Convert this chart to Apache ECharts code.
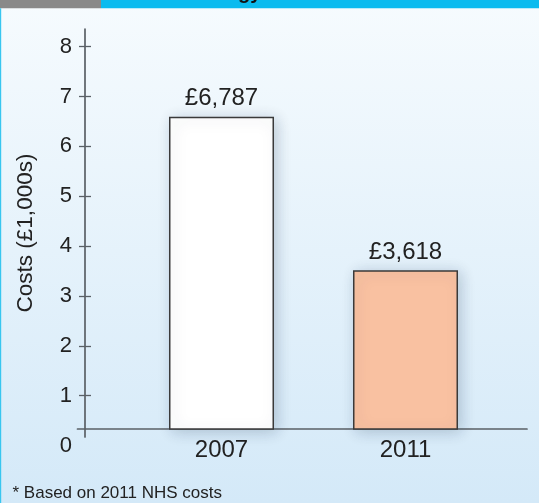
<!DOCTYPE html>
<html>
<head>
<meta charset="utf-8">
<script src="https://cdn.jsdelivr.net/npm/echarts@6/dist/echarts.min.js"></script>
<style>
html,body{margin:0;padding:0;}
#chart{width:539px;height:503px;}
</style>
</head>
<body>
<div id="chart"></div>
<script>
// ---- data ----
var categories = ['2007', '2011'];
var costs = [6.787, 3.618];           // £1,000s
var barColors = ['#ffffff', '#f9c1a1'];
var yTickMin = 0, yTickMax = 8, yTickInterval = 1;
var yTickMarks = [1, 2, 3, 4, 5, 6, 7, 8];   // tick marks drawn (none at 0)
var yAxisTitle = 'Costs (£1,000s)';
var footnote = '* Based on 2011 NHS costs';

// ---- layout ----
var W = 539, H = 503;
var FONT = 'Liberation Sans';
var yZero = 445.6, yTop = 46.7, xAxisY = 429;
var barPxPerUnit = 48.45;
var barMin = (yZero - xAxisY) / barPxPerUnit;
var barMax = (yZero - yTop) / barPxPerUnit;
var lineColor = '#5a6066';

var chart = echarts.init(document.getElementById('chart'), null, {renderer: 'canvas'});

var hidden = {show: false};
var option = {
  animation: false,
  backgroundColor: {
    type: 'linear', x: 0, y: 0, x2: 0, y2: 1,
    colorStops: [{offset: 0, color: '#f6fbfe'}, {offset: 1, color: '#d4e9f8'}]
  },
  textStyle: {fontFamily: FONT},
  grid: [
    {left: 85, right: 12, top: yTop, bottom: H - yZero},       // 0 ticks & labels
    {left: 85, right: 12, top: 29, bottom: H - 437},           // 1 y axis line
    {left: 77.5, right: 12, top: yTop, bottom: H - xAxisY},    // 2 x axis line
    {left: 129.5, right: 41.5, top: yTop, bottom: H - xAxisY}  // 3 bars
  ],
  xAxis: [
    {gridIndex: 0, type: 'value', show: false, min: 0, max: 1},
    {gridIndex: 1, type: 'value', show: false, min: 0, max: 1},
    {gridIndex: 2, type: 'value', min: 0, max: 1,
      axisLine: {show: true, lineStyle: {color: lineColor, width: 1.7}},
      axisTick: hidden, axisLabel: hidden, splitLine: hidden},
    {gridIndex: 3, type: 'category', data: categories,
      axisLine: hidden, axisTick: hidden, splitLine: hidden,
      axisLabel: {fontSize: 24, color: '#222', margin: 9, fontFamily: FONT}}
  ],
  yAxis: [
    {gridIndex: 0, type: 'value', position: 'left', min: yTickMin, max: yTickMax, interval: yTickInterval,
      axisLine: hidden, splitLine: hidden,
      axisTick: {show: true, length: 6, customValues: yTickMarks, lineStyle: {color: lineColor, width: 1.3}},
      axisLabel: {fontSize: 22, color: '#222', margin: 13, fontFamily: FONT}},
    {gridIndex: 0, type: 'value', position: 'left', min: yTickMin, max: yTickMax, interval: yTickInterval,
      axisLine: hidden, splitLine: hidden, axisLabel: hidden,
      axisTick: {show: true, inside: true, length: 6, customValues: yTickMarks, lineStyle: {color: lineColor, width: 1.3}}},
    {gridIndex: 1, type: 'value', position: 'left', min: 0, max: 1,
      axisLine: {show: true, lineStyle: {color: lineColor, width: 1.7}},
      axisTick: hidden, axisLabel: hidden, splitLine: hidden,
      name: yAxisTitle, nameLocation: 'middle', nameRotate: 90, nameGap: 48,
      nameTextStyle: {fontSize: 22.5, color: '#222', fontFamily: FONT}},
    {gridIndex: 2, type: 'value', show: false, min: 0, max: 1},
    {gridIndex: 3, type: 'value', show: false, min: barMin, max: barMax}
  ],
  series: [{
    type: 'bar',
    xAxisIndex: 3, yAxisIndex: 4,
    barWidth: 105,
    data: costs.map(function (v, i) {
      return {value: v, itemStyle: {color: barColors[i]}};
    }),
    itemStyle: {
      borderColor: '#3a3a3a', borderWidth: 1.5,
      shadowBlur: 14, shadowColor: 'rgba(20,50,80,0.22)', shadowOffsetX: 3, shadowOffsetY: 2
    },
    label: {
      show: true, position: 'top', distance: 6,
      fontSize: 24, color: '#222', fontFamily: FONT,
      formatter: function (p) {
        return '£' + Math.round(p.value * 1000).toLocaleString('en-GB');
      }
    }
  }],
  graphic: [
    {type: 'rect', shape: {x: 0, y: 0, width: 101, height: 8.3}, style: {fill: '#898989'}, z: 10},
    {type: 'rect', shape: {x: 101, y: 0, width: W - 101, height: 8.3}, style: {fill: '#0bbbef'}, z: 10},
    {type: 'text', x: 238, y: 3, z: 11,
      style: {text: 'gy', font: 'bold 20px ' + FONT, fill: '#111', verticalAlign: 'bottom', align: 'left'}},
    {type: 'rect', shape: {x: 0, y: 8.3, width: 1.2, height: H - 8.3}, style: {fill: '#38c6f0'}, z: 10},
    {type: 'text', x: 12.5, y: 493.5, z: 10,
      style: {text: footnote, font: '17px ' + FONT, fill: '#222', verticalAlign: 'middle', align: 'left'}}
  ]
};
chart.setOption(option);
</script>
</body>
</html>
